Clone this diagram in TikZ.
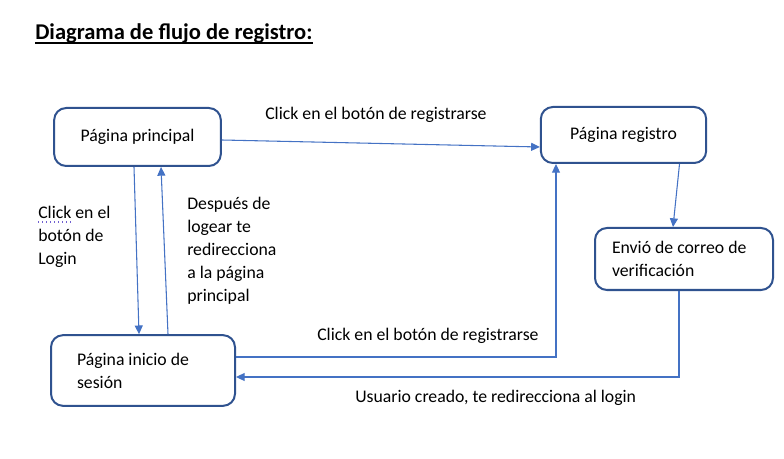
\documentclass[tikz,border=0pt]{standalone}
\usepackage{fontspec}
\setmainfont{Carlito}
\usetikzlibrary{positioning,arrows.meta,calc}
\definecolor{boxblue}{HTML}{2F528F}
\definecolor{linkblue}{HTML}{4472C4}
\definecolor{spellpurple}{HTML}{7060D0}

\begin{document}
\begin{tikzpicture}[x=0.75pt,y=-0.75pt,
  page/.style={draw=boxblue, line width=1.5pt, rounded corners=9pt, fill=white, font=\fontsize{13.3}{17.25}\selectfont},
  flow/.style={draw=linkblue, line width=0.8pt, -{Triangle[length=6.5pt,width=6pt]}},
  note/.style={font=\fontsize{13.3}{17.25}\selectfont, inner sep=0pt, align=left}]
\useasboundingbox (0,0) rectangle (784,459);

% Title
\node[font=\fontsize{16.9}{20}\selectfont\bfseries, inner sep=0pt, anchor=base west] (titulo) at (35,40) {Diagrama de flujo de registro:};
\draw[line width=1.4pt] ($(titulo.base west)+(0,3)$) -- ($(titulo.base east)+(0,3)$);

% Pages
\node[page, minimum width=125pt, minimum height=43.5pt] (principal) at (137.5,137) {Página principal};
\node[page, minimum width=124pt, minimum height=42pt] (registro) at (623.5,135) {Página registro};
\node[page, minimum width=133.5pt, minimum height=46.5pt, text width=108pt, align=flush left] (correo) at (684,259) {Envió de correo de\\verificación};
\node[page, minimum width=138pt, minimum height=53pt, text width=99pt, align=flush left] (inicio) at (143,370.5) {Página inicio de\\sesión};

% Principal -> Registro
\draw[flow] ($(principal.east)+(0,3)$) -- ($(registro.west)+(0,12)$);

% Principal <-> Inicio
\draw[flow] ($(principal.south)+(-3.5,0)$) -- ($(inicio.north)+(-4,0)$);
\draw[flow] ($(inicio.north)+(25,0)$) -- ($(principal.south)+(23.5,0)$);

% Registro -> Correo
\draw[flow] ($(registro.south)+(56,0)$) -- ($(correo.north)+(-11,0)$);

% Correo -> Inicio
\coordinate (c1) at ($(correo.south)+(-5,0)$);
\coordinate (c2) at ($(inicio.east)+(0,6.5)$);
\draw[flow] (c1) |- (c2);

% Inicio -> Registro
\coordinate (r1) at ($(inicio.east)+(0,-13.5)$);
\coordinate (r2) at ($(registro.south)+(-67.5,0)$);
\draw[flow] (r1) -| (r2);

% Labels
\node[note, anchor=west] (lblreg) at (265,115) {Click en el botón de registrarse};
\node[note, anchor=west] (lblreg2) at (317,336) {Click en el botón de registrarse};
\node[note, anchor=west] (lblusr) at (355,398) {Usuario creado, te redirecciona al login};
\node[note, anchor=north west] (lbllogin) at (38,206) {Click en el\\botón de\\Login};
\node[note, anchor=north west] (lblvuelta) at (187,197) {Después de\\logear te\\redirecciona\\a la página\\principal};

% spell check mark
\draw[spellpurple, line width=1pt, dotted] ($(lbllogin.north west)+(0,16)$) -- +(33,0);
\end{tikzpicture}
\end{document}
